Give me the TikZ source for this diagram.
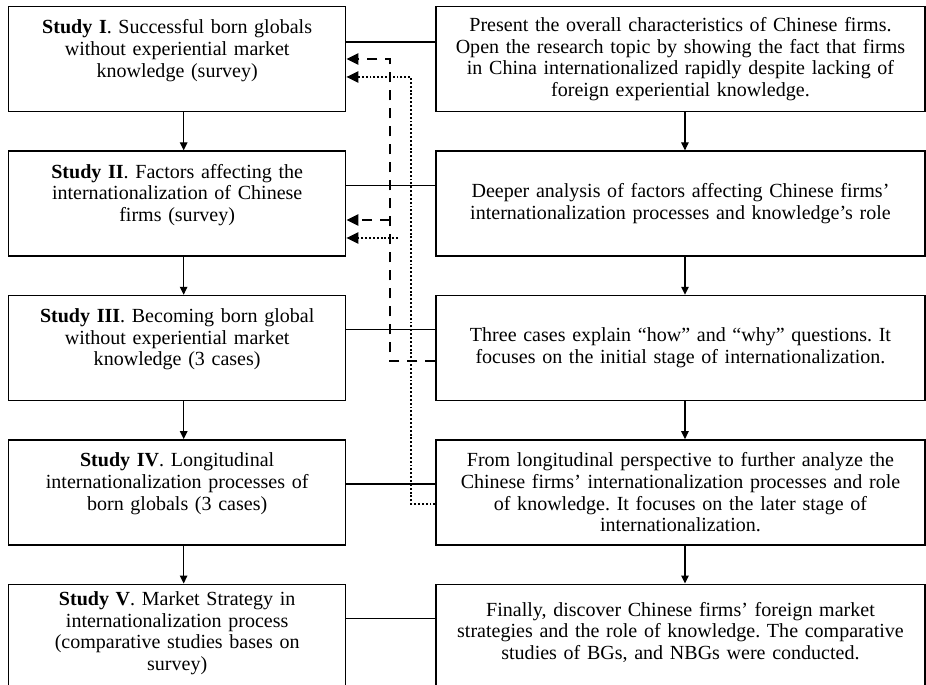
\documentclass[tikz,border=0pt]{standalone}
\usepackage{fontspec}
\setmainfont{Liberation Serif}
\usetikzlibrary{arrows.meta,positioning}
\frenchspacing
\tikzset{
  study box/.style={draw,line width=0.8pt,anchor=north west,minimum width=6.74cm,minimum height=2.1cm,text width=6.6cm,inner sep=0pt,align=center,font=\fontsize{11.4}{12.3}\selectfont},
  aim box/.style={draw,line width=0.8pt,minimum width=9.78cm,minimum height=2.1cm,text width=9.7cm,inner sep=0pt,align=center,font=\fontsize{11.4}{12.3}\selectfont},
  flow arrow/.style={-{Triangle[length=1.6mm,width=1.5mm]},line width=0.7pt},
  link line/.style={line width=0.8pt},
  dash arrow/.style={-{Triangle[length=2.4mm,width=2.2mm]},line width=1.3pt,dash pattern=on 2mm off 1.6mm},
  dot arrow/.style={-{Triangle[length=2.4mm,width=2.2mm]},line width=1.2pt,dash pattern=on 1.1pt off 1.1pt}
}
\begin{document}
\begin{tikzpicture}[x=0.02cm,y=-0.02cm,node distance=0.76cm]
  \useasboundingbox (0,0) rectangle (926,685);
  \clip (0,0) rectangle (926,685);
  % left column: the studies
  \node[study box] (s1) at (8,6) {\textbf{Study I}. Successful born globals\\ without experiential market\\ knowledge (survey)\\ \mbox{}};
  \node[study box,below=of s1.south west,anchor=north west] (s2) {\textbf{Study II}. Factors affecting the\\ internationalization of Chinese\\ firms (survey)\\ \mbox{}};
  \node[study box,below=of s2.south west,anchor=north west] (s3) {\textbf{Study III}. Becoming born global\\ without experiential market\\ knowledge (3 cases)\\ \mbox{}};
  \node[study box,below=of s3.south west,anchor=north west] (s4) {\textbf{Study IV}. Longitudinal\\ internationalization processes of\\ born globals (3 cases)\\ \mbox{}};
  \node[study box,minimum height=2.3cm,below=of s4.south west,anchor=north west] (s5) {\textbf{Study V}. Market Strategy in\\ internationalization process\\ (comparative studies bases on\\ survey)\\ \mbox{}};
  % right column: what each study does
  \node[aim box,right=1.78cm of s1.north east,anchor=north west] (a1) {Present the overall characteristics of Chinese firms.\\ Open the research topic by showing the fact that firms\\ in China internationalized rapidly despite lacking of\\ foreign experiential knowledge.};
  \node[aim box,below=of a1.south west,anchor=north west] (a2) {Deeper analysis of factors affecting Chinese firms'\\ internationalization processes and knowledge's role};
  \node[aim box,below=of a2.south west,anchor=north west] (a3) {Three cases explain ``how'' and ``why'' questions. It\\ focuses on the initial stage of internationalization.};
  \node[aim box,below=of a3.south west,anchor=north west] (a4) {From longitudinal perspective to further analyze the\\ Chinese firms' internationalization processes and role\\ of knowledge. It focuses on the later stage of\\ internationalization.};
  \node[aim box,minimum height=2.3cm,below=of a4.south west,anchor=north west] (a5) {Finally, discover Chinese firms' foreign market\\ strategies and the role of knowledge. The comparative\\ studies of BGs, and NBGs were conducted.\\ \mbox{}};
  % flow downwards
  \foreach \i/\j in {1/2,2/3,3/4,4/5}{
    \draw[flow arrow] ([xshift=0.13cm]s\i.south) -- ([xshift=0.13cm]s\j.north);
    \draw[flow arrow] ([xshift=0.09cm]a\i.south) -- ([xshift=0.09cm]a\j.north);
  }
  % links between the columns
  \foreach \i/\d in {1/0.72,2/0.7,3/0.7,4/0.9,5/0.7}{
    \draw[link line] ([yshift=-\d cm]s\i.north east) -- ([yshift=-\d cm]a\i.north west);
  }
  % feedback lines
  \coordinate (dA) at (390,59);
  \coordinate (dB) at (390,361);
  \coordinate (dC) at (390,220);
  \coordinate (pA) at (411,77);
  \coordinate (pB) at (411,504);
  \coordinate (pC) at (398,238);
  \draw[dash arrow] (a3.west |- dB) -- (dB) -- (dA) -- (s1.east |- dA);
  \draw[dash arrow] (dC) -- (s2.east |- dC);
  \draw[dot arrow] (a4.west |- pB) -- (pB) -- (pA) -- (s1.east |- pA);
  \draw[dot arrow] (pC) -- (s2.east |- pC);
\end{tikzpicture}
\end{document}
